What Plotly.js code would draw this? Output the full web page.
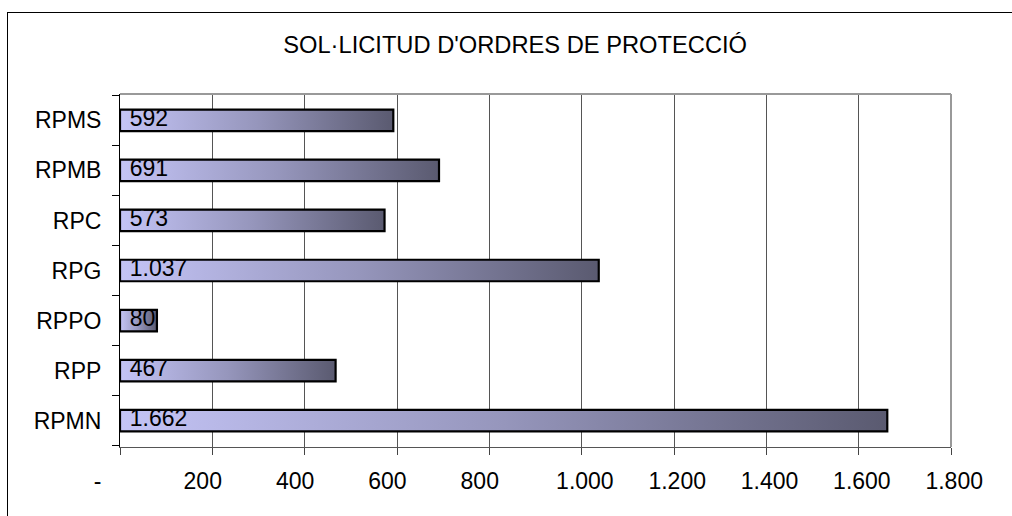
<!DOCTYPE html>
<html><head><meta charset="utf-8">
<script src="https://cdn.plot.ly/plotly-3.0.1.min.js"></script>
<style>
html,body{margin:0;padding:0;overflow:hidden;background:#fff;width:1012px;height:516px;}
#chart{position:absolute;left:0;top:0;width:1012px;height:516px;}
#frame{position:absolute;left:7px;top:12px;width:1100px;height:600px;border:1px solid #000;pointer-events:none;}
</style></head><body>
<div id="chart"></div><div id="frame"></div>
<script>
const categories = ['RPMN','RPP','RPPO','RPG','RPC','RPMB','RPMS'];
const values = [1662, 467, 80, 1037, 573, 691, 592];
const tickValues = [0, 200, 400, 600, 800, 1000, 1200, 1400, 1600, 1800];
const tickLabels = ['-', '200', '400', '600', '800', '1.000', '1.200', '1.400', '1.600', '1.800'];
const chartTitle = "SOL·LICITUD D'ORDRES DE PROTECCIÓ";

const NB = '\u00a0';
function padTick(t){
  if (t === '-') return t + NB.repeat(7);
  if (t.length <= 3) return t + NB.repeat(3);
  return NB + t;
}
function fmt(v){
  return String(v).replace(/\B(?=(\d{3})+(?!\d))/g, '.');
}
const font = 'Arial, "Liberation Sans", sans-serif';

const bars = {
  type: 'bar', orientation: 'h',
  x: values, y: categories,
  marker: {color: '#9090b4', line: {color: '#000', width: 2.2}},
  hoverinfo: 'skip'
};
const labels = {
  type: 'scatter', mode: 'markers+text',
  x: values.map(() => 0), y: categories,
  text: values.map(fmt),
  textposition: 'middle right',
  marker: {size: 14, color: 'rgba(0,0,0,0)'},
  textfont: {family: font, size: 23, color: '#000'},
  cliponaxis: false, hoverinfo: 'skip'
};

const layout = {
  width: 1012, height: 516,
  margin: {l: 120, r: 61, t: 94, b: 69},
  paper_bgcolor: '#fff', plot_bgcolor: '#fff',
  showlegend: false,
  bargap: 0.57,
  separators: ',.',
  font: {family: font, size: 23, color: '#000'},
  title: {text: chartTitle, x: 0.509, xanchor: 'center', y: 1 - 45/516, yanchor: 'middle', yref: 'container',
          font: {family: font, size: 23.7, color: '#000'}},
  xaxis: {
    range: [0, 1800], tickmode: 'array', tickvals: tickValues, ticktext: tickLabels.map(padTick),
    ticks: 'outside', ticklen: 7, tickcolor: '#444', tickwidth: 1,
    showgrid: true, gridcolor: '#555', gridwidth: 1,
    showline: true, linecolor: '#555', linewidth: 1, zeroline: false,
    tickfont: {family: font, size: 23, color: '#000'}, ticklabelstandoff: 6, fixedrange: true
  },
  yaxis: {
    type: 'category', categoryorder: 'array', categoryarray: categories,
    tickson: 'boundaries', ticks: 'outside', ticklen: 7, tickcolor: '#000', tickwidth: 1,
    showline: true, linecolor: '#000', linewidth: 1, showgrid: false, zeroline: false,
    tickfont: {family: font, size: 23, color: '#000'}, ticklabelstandoff: 13, fixedrange: true
  },
  shapes: [
    {type: 'line', xref: 'paper', yref: 'paper', x0: 0, x1: 1, y0: 1, y1: 1, line: {color: '#999', width: 2}},
    {type: 'line', xref: 'paper', yref: 'paper', x0: 1, x1: 1, y0: 0, y1: 1, line: {color: '#999', width: 2}}
  ]
};

Plotly.newPlot('chart', [bars, labels], layout, {staticPlot: true, displayModeBar: false}).then(() => {
  const svg = document.querySelector('#chart svg.main-svg');
  const ns = 'http://www.w3.org/2000/svg';
  let defs = svg.querySelector('defs');
  if (!defs) { defs = document.createElementNS(ns, 'defs'); svg.insertBefore(defs, svg.firstChild); }
  const g = document.createElementNS(ns, 'linearGradient');
  g.setAttribute('id', 'barGrad');
  g.setAttribute('x1', '0'); g.setAttribute('y1', '0'); g.setAttribute('x2', '1'); g.setAttribute('y2', '0');
  [['0%', '#c4c4f6'], ['50%', '#9696bc'], ['100%', '#5a5a70']].forEach(([o, c]) => {
    const s = document.createElementNS(ns, 'stop');
    s.setAttribute('offset', o); s.setAttribute('stop-color', c);
    g.appendChild(s);
  });
  defs.appendChild(g);
  document.querySelectorAll('#chart .bars .point path').forEach(p => { p.style.fill = 'url(#barGrad)'; });
});
</script>
</body></html>
